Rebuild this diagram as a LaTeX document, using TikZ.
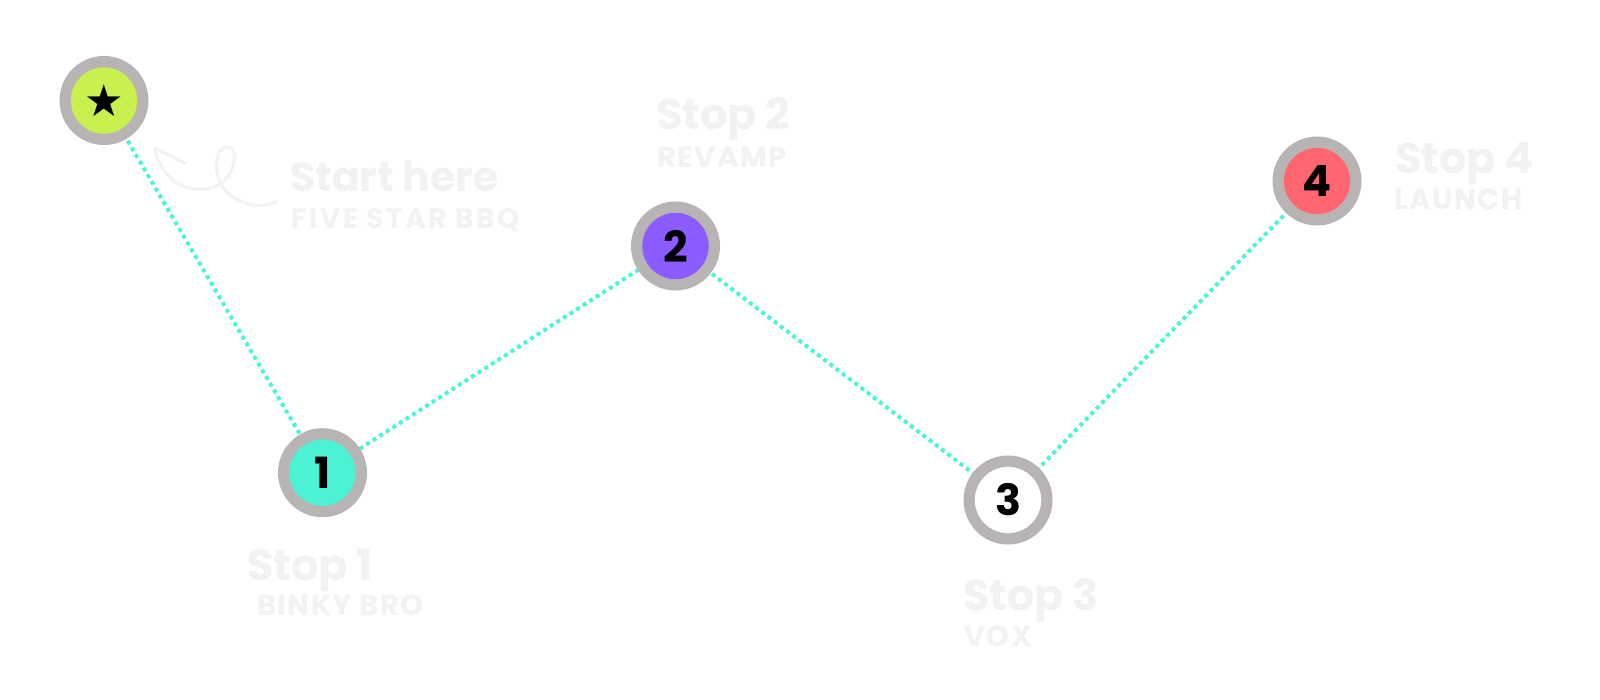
\documentclass[tikz,border=0pt]{standalone}
\usepackage{fontspec}
\setmainfont{Poppins}[UprightFont=* Bold]
\newfontfamily\symfont{DejaVu Sans}
\newfontfamily\subfont{Poppins}[UprightFont=* Bold,LetterSpace=5]
\newfontfamily\widesubfont{Poppins}[UprightFont=* Bold,LetterSpace=9]
\definecolor{ringgray}{HTML}{B9B4B4}
\definecolor{dotteal}{HTML}{4DF5D8}
\definecolor{labelgray}{HTML}{F1F2F2}
\definecolor{limefill}{HTML}{C8F04F}
\definecolor{aquafill}{HTML}{4DF2D4}
\definecolor{purplefill}{HTML}{8B5CFF}
\definecolor{redfill}{HTML}{FF6670}
\begin{document}
\begin{tikzpicture}[x=1pt,y=-1pt,
  stopnode/.style={circle,draw=ringgray,line width=11.2pt,minimum size=77.8pt,inner sep=0pt,
    font=\fontsize{43pt}{43pt}\selectfont,text=black},
  route/.style={dotteal,line width=4pt,dash pattern=on 4pt off 3.8pt},
  bigtitle/.style={anchor=base west,inner sep=0pt,text=labelgray,font=\fontsize{43pt}{43pt}\selectfont},
  subtitle/.style={anchor=base west,inner sep=0pt,text=labelgray,font=\subfont\fontsize{29pt}{29pt}\selectfont},
  scribble/.style={labelgray,line width=3pt,line cap=round,line join=round}]
\useasboundingbox[fill=white] (0,0) rectangle (1600,700);
% connectors
\coordinate (cs) at (104,100.5);
\coordinate (c1) at (322.5,472.7);
\coordinate (c2) at (675.5,246);
\coordinate (c3) at (1008,500);
\coordinate (c4) at (1317,181);
\draw[route] (cs) -- (c1) -- (c2) -- (c3) -- (c4);
% nodes
\node[stopnode,fill=limefill] (s) at (cs) {\symfont\fontsize{44pt}{44pt}\selectfont ★};
\node[stopnode,fill=aquafill] (n1) at (c1) {1};
\node[stopnode,fill=purplefill] (n2) at (c2) {2};
\node[stopnode,fill=white] (n3) at (c3) {3};
\node[stopnode,fill=redfill] (n4) at (c4) {4};
% labels
\node[bigtitle] (t0) at (290,192) {\fontsize{41pt}{41pt}\selectfont Start here};
\node[subtitle] (u0) at (291,228.3) {\widesubfont\fontsize{28pt}{28pt}\selectfont FIVE STAR BBQ};
\node[bigtitle] (t1) at (247,580) {Stop 1};
\node[subtitle] (u1) at (257,615) {BINKY BRO};
\node[bigtitle] (t2) at (656,130) {Stop 2};
\node[subtitle] (u2) at (657,167.3) {REVAMP};
\node[bigtitle] (t3) at (963,610) {Stop 3};
\node[subtitle] (u3) at (964,646.7) {VOX};
\node[bigtitle] (t4) at (1395,173.3) {Stop 4};
\node[subtitle] (u4) at (1394,210) {LAUNCH};
% hand-drawn arrow
\coordinate (atip) at (155,148.3);
\coordinate (aend) at (276.7,201.7);
\draw[scribble] (aend) .. controls (255,212) and (226,200) .. (219,180)
  .. controls (212,160) and (220,145) .. (229,147)
  .. controls (238,150) and (236,170) .. (222,183)
  .. controls (195,200) and (160,182) .. (atip);
\draw[scribble] (atip) -- (185,163.3);
\end{tikzpicture}
\end{document}
